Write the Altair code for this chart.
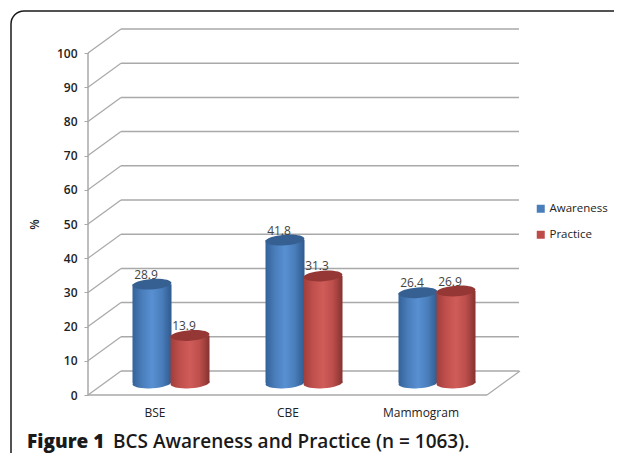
import altair as alt
import pandas as pd

categories = ["BSE", "CBE", "Mammogram"]
awareness = [28.9, 41.8, 26.4]
practice = [13.9, 31.3, 26.9]
y_ticks = list(range(0, 101, 10))

BAND = 133.0            # px per category on the front floor
PX_PER_UNIT = 3.42
DX_PX, DY_PX = 33.0, 24.0
DX = DX_PX / BAND
DY = DY_PX / PX_PER_UNIT
W, H = 431, 366
XMAX = W / BAND
YMAX = H / PX_PER_UNIT
BODY = 39.0 / BAND
SHIFT = 19.0 / BAND
ELLIPSE = "M-1,0C-1,-0.15,-0.55,-0.27,0,-0.27C0.55,-0.27,1,-0.15,1,0C1,0.15,0.55,0.27,0,0.27C-0.55,0.27,-1,0.15,-1,0Z"
FONT = "Open Sans"
GRID = "#a9a9a9"

axis_y = alt.Axis(values=y_ticks, title="%", titleFont=FONT, titleFontSize=12, titleFontWeight=600,
                  titleColor="#222", titleX=-47, titleY=195, grid=False, domain=False,
                  tickColor=GRID, tickSize=4, labelFont=FONT, labelFontSize=12, labelFontWeight=600,
                  labelColor="#222", labelPadding=7)
axis_x = alt.Axis(values=[0.5, 1.5, 2.5], title=None, domain=False, ticks=False, grid=False,
                  labelExpr="['" + "','".join(categories) + "'][floor(datum.value)]",
                  labelFont=FONT, labelFontSize=12, labelFontWeight=500, labelColor="#222", labelPadding=12)
x = alt.X("x:Q", scale=alt.Scale(domain=[0, XMAX], nice=False, zero=False), axis=axis_x)
y = alt.Y("y:Q", scale=alt.Scale(domain=[0, YMAX], nice=False, zero=False), axis=axis_y)

grid = pd.DataFrame({"v": y_ticks})
back = pd.concat([
    pd.DataFrame({"x": DX, "y": grid.v + DY, "v": grid.v}),
    pd.DataFrame({"x": XMAX, "y": grid.v + DY, "v": grid.v}),
])
diag = pd.DataFrame({"x": 0.0, "x2": DX, "y": grid.v, "y2": grid.v + DY})
floor_front = pd.DataFrame({"x": [0.0], "x2": [3.0], "y": [0.0]})
floor_side = pd.DataFrame({"x": [3.0], "x2": [3.0 + DX], "y": [0.0], "y2": [DY]})
wall = pd.DataFrame({"x": [0.0], "y": [0.0], "y2": [100.0]})

layers = [
    alt.Chart(back).mark_line(color=GRID, strokeWidth=1.5).encode(x=x, y=y, detail="v:N"),
    alt.Chart(diag).mark_rule(color=GRID, strokeWidth=1.2).encode(x=x, x2="x2:Q", y=y, y2="y2:Q"),
    alt.Chart(floor_front).mark_rule(color=GRID, strokeWidth=1.5).encode(x=x, x2="x2:Q", y=y),
    alt.Chart(floor_side).mark_rule(color=GRID, strokeWidth=1.2).encode(x=x, x2="x2:Q", y=y, y2="y2:Q"),
    alt.Chart(wall).mark_rule(color=GRID, strokeWidth=1.5).encode(x=x, y=y, y2="y2:Q"),
]

styles = {
    "Awareness": (awareness, -SHIFT, ["#34629a", "#4a7ebb", "#5890d3", "#4a7ebb", "#2f5a8e"], "#376092", "#4a7ebb"),
    "Practice": (practice, SHIFT, ["#a03e3b", "#c0504d", "#d05c59", "#bc4e4b", "#863230"], "#953735", "#be4b48"),
}

def grad(stops):
    n = len(stops) - 1
    return alt.Gradient(gradient="linear", x1=0, x2=1, y1=0, y2=0,
                        stops=[alt.GradientStop(color=c, offset=i / n) for i, c in enumerate(stops)])

frames = []
for name, (vals, off, stops, top, solid) in styles.items():
    d = pd.DataFrame({
        "series": name,
        "cx": [i + 0.5 + DX / 2 + off for i in range(3)],
        "value": vals,
    })
    d["x"] = d.cx - BODY / 2
    d["x2"] = d.cx + BODY / 2
    d["y"] = DY / 2
    d["y2"] = d.value + DY / 2
    frames.append(d)
    p = d.assign(x=d.cx)
    base = p.assign(y=DY / 2)
    head = p.assign(y=p.y2)
    size = 39 ** 2
    layers += [
        alt.Chart(base).mark_point(shape=ELLIPSE, size=size, filled=True, opacity=1, fill=grad(stops),
                                   strokeWidth=0, angle=356).encode(x=x, y=y),
        alt.Chart(d).mark_rect(fill=grad(stops)).encode(x=x, x2="x2:Q", y=y, y2="y2:Q"),
        alt.Chart(head).mark_point(shape=ELLIPSE, size=size, filled=True, opacity=1, fill=top,
                                   strokeWidth=0, angle=356).encode(x=x, y=y),
    ]

bars = pd.concat(frames)

legend_layer = alt.Chart(bars.assign(y=bars.y2)).mark_point(filled=True, opacity=0, size=1).encode(
    x=x, y=y,
    color=alt.Color("series:N",
                    scale=alt.Scale(domain=list(styles), range=["#4a7ebb", "#be4b48"]),
                    legend=alt.Legend(title=None, orient="none", legendX=447, legendY=174, symbolType="square",
                                      symbolSize=64, symbolOpacity=1, labelFont=FONT, labelFontSize=11.5, labelFontWeight=500,
                                      labelColor="#222", rowPadding=13, labelOffset=3)),
)
layers.append(legend_layer)

labels = bars.assign(x=bars.cx, y=bars.y2, label=bars.value.map("{:.1f}".format))
layers.append(
    alt.Chart(labels).mark_text(font=FONT, fontSize=12, color="#444", dx=-6, dy=-9.5, baseline="middle").encode(
        x=x, y=y, text="label:N")
)

# rounded frame and caption, placed in pixels around the plot
frame = pd.DataFrame({"a": [1]})
layers.append(
    alt.Chart(frame).mark_rect(filled=False, stroke="#1a1a1a", strokeWidth=1.5, cornerRadius=13, fillOpacity=0).encode(
        x=alt.value(-77), x2=alt.value(600), y=alt.value(-18), y2=alt.value(460))
)
caption = pd.DataFrame({"t": ["Figure 1"], "t2": ["BCS Awareness and Practice (n = 1063)."]})
layers += [
    alt.Chart(caption).mark_text(font=FONT, fontSize=19, fontWeight=800, color="#1a1a1a", align="left", baseline="alphabetic").encode(
        x=alt.value(-61), y=alt.value(419), text="t:N"),
    alt.Chart(caption).mark_text(font=FONT, fontSize=19, fontWeight=600, color="#1a1a1a", align="left", baseline="alphabetic").encode(
        x=alt.value(25), y=alt.value(419), text="t2:N"),
]

chart = alt.layer(*layers).properties(
    width=W, height=H,
    background="white",
    autosize=alt.AutoSizeParams(type="none"),
    padding={"left": 80, "top": 21, "right": 95, "bottom": 58},
).configure_view(stroke=None)
chart.save("out.html", embed_options={"renderer": "svg", "actions": False})
